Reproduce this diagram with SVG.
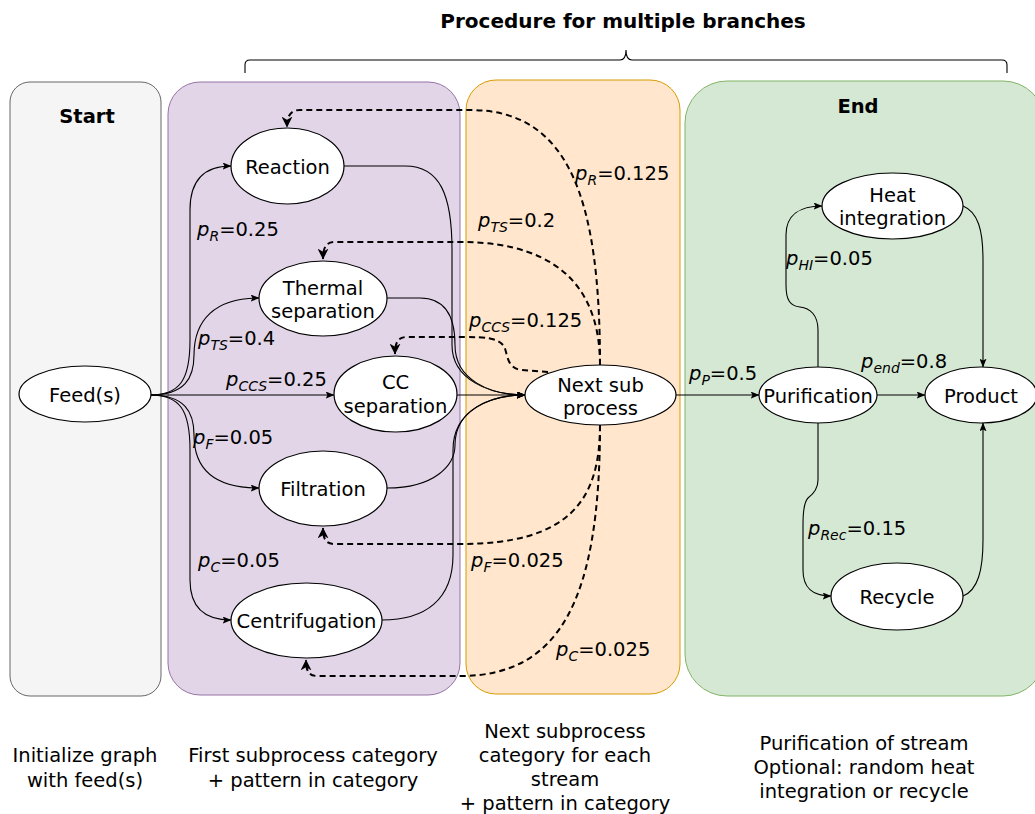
<svg xmlns="http://www.w3.org/2000/svg" width="1035" height="814" viewBox="0 0 1035 814">
<style>
text{font-family:"DejaVu Sans","Liberation Sans",sans-serif;font-size:19.5px;fill:#000}
.b{font-weight:bold}
.m{text-anchor:middle}
.i{font-style:italic}
.s{font-style:italic;font-size:14px}
.node{fill:#fff;stroke:#000;stroke-width:1.2}
.e{fill:none;stroke:#000;stroke-width:1.1}
.d{fill:none;stroke:#000;stroke-width:2;stroke-dasharray:6 4}
</style>
<defs>
<marker id="a" viewBox="0 0 10 8" refX="9.5" refY="4" markerWidth="9" markerHeight="7" orient="auto" markerUnits="userSpaceOnUse"><path d="M0,0 L10,4 L0,8 L2,4 z" fill="#000"/></marker>
<marker id="ad" viewBox="0 0 10 10" refX="9.5" refY="5" markerWidth="11" markerHeight="11" orient="auto" markerUnits="userSpaceOnUse"><path d="M0,0 L10,5 L0,10 L3,5 z" fill="#000"/></marker>
</defs>

<g id="containers">
<rect x="10" y="82" width="151" height="614" rx="20" fill="#f5f5f5" stroke="#666"/>
<rect x="168" y="82" width="292" height="613" rx="32" fill="#e1d5e7" stroke="#9673a6"/>
<rect x="466" y="80" width="214" height="614" rx="30" fill="#ffe6cc" stroke="#d79b00"/>
<rect x="685" y="81" width="360" height="615" rx="42" fill="#d5e8d4" stroke="#82b366"/>
</g>

<g id="title">
<text x="623" y="28" class="b m" style="font-size:20px">Procedure for multiple branches</text>
<path d="M245,73 L245,65 Q245,60 250,60 L620,60 Q626,60 626,50 Q626,60 632,60 L1002,60 Q1007,60 1007,65 L1007,73" fill="none" stroke="#000" stroke-width="1.1"/>
<text x="87" y="123" class="b m">Start</text>
<text x="858" y="113" class="b m">End</text>
</g>

<g id="connectors">
<path class="e" marker-end="url(#a)" d="M150,395 C180,395 190,380 190,340 L190,210 C190,180 205,166 231,166"/>
<path class="e" marker-end="url(#a)" d="M150,395 C185,395 194,378 194,355 C194,320 215,298 259,298"/>
<path class="e" marker-end="url(#a)" d="M150,395 L334,395"/>
<path class="e" marker-end="url(#a)" d="M150,395 C185,395 194,412 194,435 C194,470 215,488 259,488"/>
<path class="e" marker-end="url(#a)" d="M150,395 C180,395 190,410 190,450 L190,580 C190,608 205,620 231,620"/>
<path class="e" marker-end="url(#a)" d="M344,166 L405,166 C440,166 452,195 452,250 L452,345 C452,380 490,395 525,395"/>
<path class="e" marker-end="url(#a)" d="M387,298 L420,298 C445,298 455,315 455,345 C455,380 490,395 525,395"/>
<path class="e" marker-end="url(#a)" d="M457,395 L525,395"/>
<path class="e" marker-end="url(#a)" d="M387,488 C435,488 455,465 455,445 C455,410 490,395 525,395"/>
<path class="e" marker-end="url(#a)" d="M382,620 C425,620 453,600 453,555 L453,450 C453,410 490,395 525,395"/>
<path class="e" marker-end="url(#a)" d="M676,395 L759,395"/>
<path class="e" marker-end="url(#a)" d="M877,395 L925,395"/>
<path class="e" marker-end="url(#a)" d="M818,367 L818,330 C818,315 810,308 800,307 C790,306 786,300 786,285 L786,235 C786,215 800,206 822,206"/>
<path class="e" marker-end="url(#a)" d="M963,206 C978,212 983,230 983,260 L983,367"/>
<path class="e" marker-end="url(#a)" d="M818,423 L818,480 C818,490 812,495 808,498 C804,502 803,510 803,525 L803,570 C803,588 812,596 831,596"/>
<path class="e" marker-end="url(#a)" d="M963,596 C978,590 983,570 983,540 L983,423"/>
<path class="d" marker-end="url(#ad)" d="M600,365 C600,200 570,110 470,110 L300,110 C292,110 287,114 287,127"/>
<path class="d" marker-end="url(#ad)" d="M600,365 C600,300 570,242 460,242 L335,242 C327,242 323,246 323,259"/>
<path class="d" marker-end="url(#ad)" d="M548,372 L522,370 C505,369 508,350 503,345 C497,338 485,337 465,337 L407,337 C399,337 395,341 395,354"/>
<path class="d" marker-end="url(#ad)" d="M600,425 C600,500 570,544 460,544 L335,544 C327,544 323,541 323,528"/>
<path class="d" marker-end="url(#ad)" d="M600,425 C600,600 560,676 460,676 L318,676 C310,676 306,673 306,660"/>
</g>

<g id="labels">
<text x="197" y="236"><tspan class="i">p</tspan><tspan class="s" dy="5">R</tspan><tspan dy="-5">=0.25</tspan></text>
<text x="198" y="345"><tspan class="i">p</tspan><tspan class="s" dy="5">TS</tspan><tspan dy="-5">=0.4</tspan></text>
<text x="226" y="386"><tspan class="i">p</tspan><tspan class="s" dy="5">CCS</tspan><tspan dy="-5">=0.25</tspan></text>
<text x="193" y="444"><tspan class="i">p</tspan><tspan class="s" dy="5">F</tspan><tspan dy="-5">=0.05</tspan></text>
<text x="198" y="567"><tspan class="i">p</tspan><tspan class="s" dy="5">C</tspan><tspan dy="-5">=0.05</tspan></text>
<text x="575" y="180"><tspan class="i">p</tspan><tspan class="s" dy="5">R</tspan><tspan dy="-5">=0.125</tspan></text>
<text x="478" y="227"><tspan class="i">p</tspan><tspan class="s" dy="5">TS</tspan><tspan dy="-5">=0.2</tspan></text>
<text x="469" y="327"><tspan class="i">p</tspan><tspan class="s" dy="5">CCS</tspan><tspan dy="-5">=0.125</tspan></text>
<text x="471" y="567"><tspan class="i">p</tspan><tspan class="s" dy="5">F</tspan><tspan dy="-5">=0.025</tspan></text>
<text x="556" y="656"><tspan class="i">p</tspan><tspan class="s" dy="5">C</tspan><tspan dy="-5">=0.025</tspan></text>
<text x="689" y="380"><tspan class="i">p</tspan><tspan class="s" dy="5">P</tspan><tspan dy="-5">=0.5</tspan></text>
<text x="861" y="368"><tspan class="i">p</tspan><tspan class="s" dy="5">end</tspan><tspan dy="-5">=0.8</tspan></text>
<text x="786" y="265"><tspan class="i">p</tspan><tspan class="s" dy="5">HI</tspan><tspan dy="-5">=0.05</tspan></text>
<text x="808" y="535"><tspan class="i">p</tspan><tspan class="s" dy="5">Rec</tspan><tspan dy="-5">=0.15</tspan></text>
</g>

<g id="feed"><ellipse class="node" cx="85" cy="394" rx="66" ry="28"/><text x="85" y="402" class="m">Feed(s)</text></g>
<g id="reaction"><ellipse class="node" cx="287.5" cy="166" rx="56.5" ry="38"/><text x="287.5" y="174" class="m">Reaction</text></g>
<g id="thermal"><ellipse class="node" cx="323" cy="298.5" rx="64" ry="37.5"/><text x="323" y="295" class="m">Thermal</text><text x="323" y="318" class="m">separation</text></g>
<g id="ccsep"><ellipse class="node" cx="395.5" cy="394" rx="61.5" ry="38"/><text x="395.5" y="389" class="m">CC</text><text x="395.5" y="413" class="m">separation</text></g>
<g id="filtration"><ellipse class="node" cx="323" cy="488.5" rx="64" ry="37.5"/><text x="323" y="496" class="m">Filtration</text></g>
<g id="centrifugation"><ellipse class="node" cx="306.5" cy="620.5" rx="75.5" ry="37.5"/><text x="306.5" y="628" class="m">Centrifugation</text></g>
<g id="nextsub"><ellipse class="node" cx="600.5" cy="395" rx="75.5" ry="30"/><text x="600.5" y="392" class="m">Next sub</text><text x="600.5" y="415" class="m">process</text></g>
<g id="purification"><ellipse class="node" cx="818" cy="395" rx="59" ry="28"/><text x="818" y="403" class="m">Purification</text></g>
<g id="product"><ellipse class="node" cx="981" cy="395" rx="56" ry="28"/><text x="981" y="403" class="m">Product</text></g>
<g id="heat"><ellipse class="node" cx="892.5" cy="206" rx="70.5" ry="33"/><text x="892.5" y="202" class="m">Heat</text><text x="892.5" y="225" class="m">integration</text></g>
<g id="recycle"><ellipse class="node" cx="897" cy="596.5" rx="66" ry="33.5"/><text x="897" y="604" class="m">Recycle</text></g>

<g id="captions">
<text x="85" class="m"><tspan x="85" y="762">Initialize graph</tspan><tspan x="85" y="787">with feed(s)</tspan></text>
<text x="313" class="m"><tspan x="313" y="762">First subprocess category</tspan><tspan x="313" y="787">+ pattern in category</tspan></text>
<text x="565" class="m"><tspan x="565" y="738">Next subprocess</tspan><tspan x="565" y="762">category for each</tspan><tspan x="565" y="786">stream</tspan><tspan x="565" y="810">+ pattern in category</tspan></text>
<text x="864" class="m"><tspan x="864" y="750">Purification of stream</tspan><tspan x="864" y="774">Optional: random heat</tspan><tspan x="864" y="798">integration or recycle</tspan></text>
</g>
</svg>
